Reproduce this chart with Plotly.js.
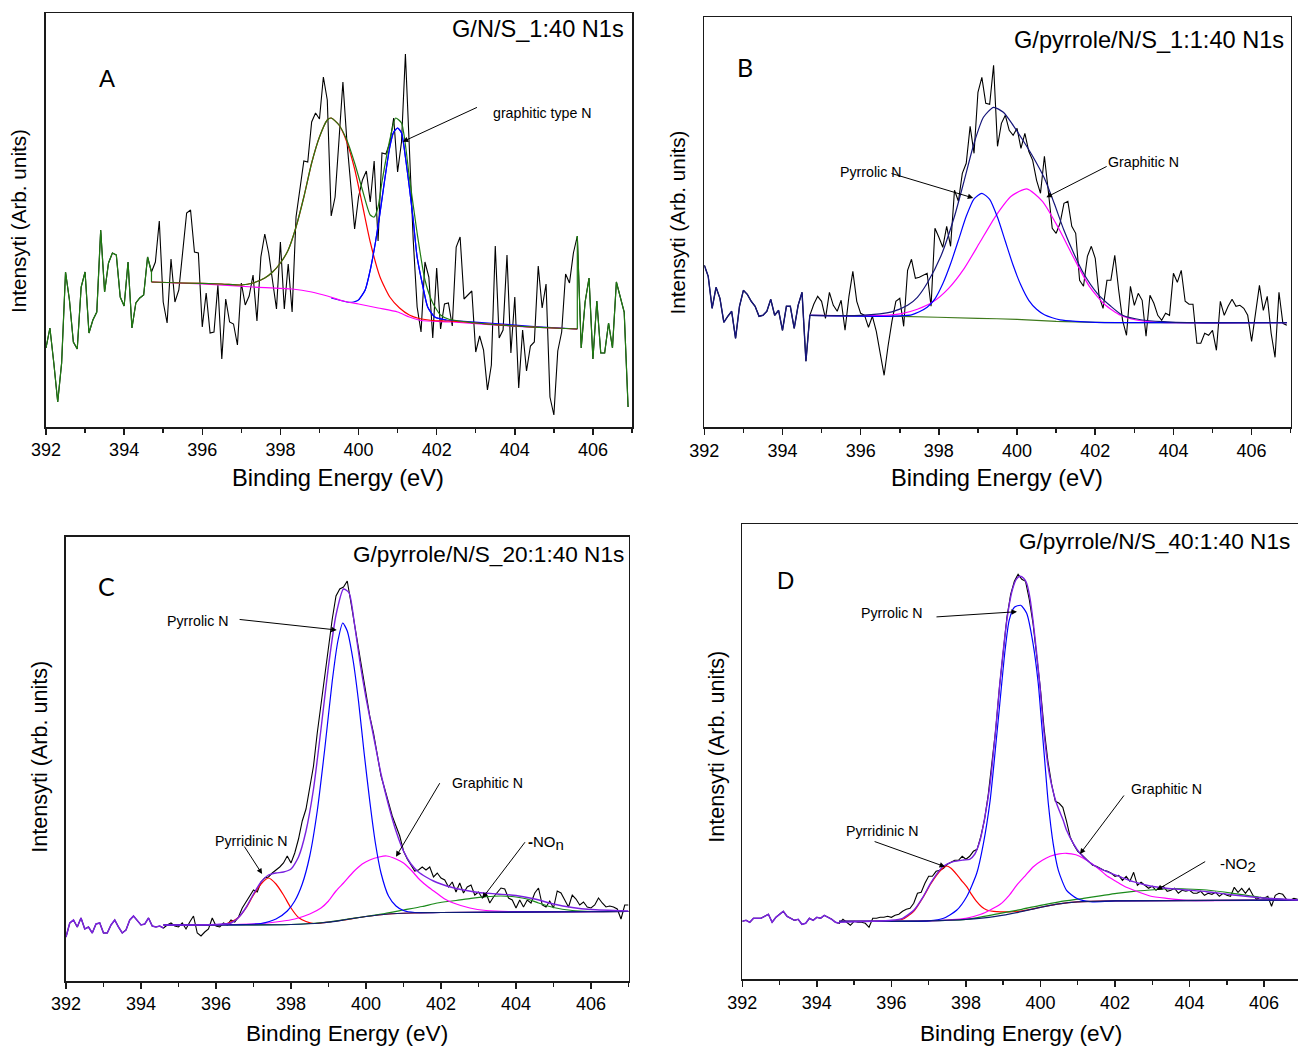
<!DOCTYPE html>
<html><head><meta charset="utf-8">
<script src="https://cdn.plot.ly/plotly-3.0.1.min.js"></script>
<style>html,body{margin:0;padding:0;background:#fff}#chart{width:1298px;height:1047px}</style>
</head><body><div id="chart"></div>
<script>
// ===== Raw N1s spectra (0.1 eV steps starting at 392.0 eV), arbitrary intensity units =====
const E_START = 392.0, E_STEP = 0.1;
const rawA = [79,99,64,25,64,155,127,85,78,140,
155,94,107,115,197,135,164,174,172,130,
121,165,99,124,129,132,170,155,165,206,
125,104,168,125,137,174,214,217,175,174,
100,134,94,95,142,68,128,105,103,82,
144,122,131,152,106,170,193,174,147,118,
185,118,163,115,210,240,266,265,305,314,
308,350,327,211,230,287,345,287,240,198,
230,247,256,225,266,186,274,273,284,309,
255,285,373,284,187,120,95,165,150,89,
159,98,123,124,101,180,190,128,132,136,
75,91,77,37,62,181,89,97,172,74,
130,39,97,56,81,85,161,119,143,30,
12,76,95,153,144,174,191,79,125,149,
68,126,74,74,104,79,145,130,115,20];
const rawB = [162,151,119,140,129,105,111,116,89,121,
137,133,126,121,111,112,116,128,112,117,
97,121,121,99,122,135,66,112,123,131,
126,109,135,122,116,127,97,131,156,126,
114,112,100,111,96,74,52,81,106,126,
129,101,157,168,149,150,152,154,121,199,
190,180,201,181,237,226,254,264,301,274,
335,350,324,323,362,281,304,312,297,292,
299,279,294,276,267,247,234,271,236,199,
194,204,224,226,201,194,147,141,171,181,
169,131,119,147,147,172,137,107,92,141,
122,134,127,91,132,124,112,107,114,112,
154,145,157,126,123,123,84,84,94,92,
97,77,126,112,121,128,121,122,119,112,
86,114,142,117,131,94,70,135,104,102];
const rawC = [44,58,61,54,63,52,54,48,57,58,
48,48,56,61,54,48,51,61,65,61,
56,57,63,55,54,55,53,56,58,55,
54,58,52,59,65,48,45,49,52,63,
55,54,58,56,61,59,64,73,79,84,
91,89,99,103,104,108,111,114,118,125,
118,128,142,160,172,195,215,248,278,305,
335,362,385,392,394,400,378,355,330,308,
287,265,248,225,205,192,178,165,155,145,
130,122,116,110,111,114,111,114,104,108,
103,101,94,99,89,98,88,94,96,86,
89,83,88,78,84,88,93,92,83,81,
73,81,74,81,78,88,93,76,74,80,
73,90,88,81,74,86,82,76,79,74,
73,76,83,78,74,75,74,72,62,76,
76];
const rawD = [58,59,57,61,61,61,63,65,57,62,
65,68,63,61,59,60,55,56,61,59,
62,61,64,62,60,57,56,60,57,54,
58,57,57,56,52,61,61,62,62,63,
62,64,65,68,70,71,76,86,87,96,
103,103,108,109,111,115,117,119,119,123,
120,123,128,130,143,160,185,215,250,292,
330,362,385,398,405,400,398,380,356,325,
290,250,218,195,178,176,172,158,142,134,
128,125,121,117,114,113,111,109,108,106,
103,104,99,103,98,107,94,97,94,91,
93,89,92,93,88,89,91,86,89,88,
89,86,86,88,84,86,85,87,83,86,
84,83,92,87,91,86,91,84,80,82,
81,83,73,84,86,85,80,79,81,80];

// ===== Panel A fitted curves =====
const aEnvE = [394.7,395.5,396.5,397.0,397.3,397.6,397.8,398.0,398.2,398.4,398.6,398.8,399.0,399.2,399.3,399.5,399.7,399.9,400.1,400.3,400.4,400.5,400.6,400.8,400.95,401.1,401.3,401.5,401.7,401.9,402.1,402.3,403.0,404.0,405.0,405.6];
const aEnv  = [145,144,143,142,144,149,155,164,177,200,230,264,290,307,309,302,287,264,237,212,210,220,245,287,309,304,250,194,147,124,112,108,104,101,99,98];
const aRedE = [394.7,395.5,396.5,397.0,397.3,397.6,397.8,398.0,398.2,398.4,398.6,398.8,399.0,399.2,399.3,399.5,399.7,399.9,400.1,400.3,400.55,400.8,401.05,401.3,401.55,401.9,402.3,403.0,404.0,405.0,405.6];
const aRed  = [145,144,143,142,144,149,155,164,177,200,230,264,290,307,309,302,285,258,222,185,150,130,119,112,108.5,106.5,106,104,101,99,98];
const aBlueE = [399.3,399.5,399.7,399.87,400.0,400.17,400.3,400.43,400.55,400.68,400.8,400.9,401.0,401.1,401.2,401.3,401.4,401.5,401.65,401.77,401.95,402.25,402.6,403.5,404.5,405.6];
const aBlue  = [129,127,125,125,127,137,157,184,214,250,280,295,299,294,270,240,207,170,140,120,110,107,106,103.5,100.5,98];
const aBgE = [394.7,396.0,397.3,398.3,398.8,399.2,399.6,400.0,400.5,401.0,401.3,401.6,402.4,404.1,405.6];
const aBg  = [145,143,140,138,135,131,126,123,119,115,110,106.5,105,100.5,98];

// ===== Panel B fitted curves =====
const bEnvE = [394.7,396.0,396.8,397.2,397.45,397.7,398.05,398.4,398.65,398.9,399.14,399.4,399.65,399.9,400.15,400.4,400.7,400.95,401.2,401.45,401.7,402.05,402.4,402.7,403.2,403.75,404.35,406.9];
const bEnv  = [112,112,115.5,122,130,144,171,211,247,284,310,320,315,302,287,271,249,224,197,174,154,134,121,112,107.3,105.6,104.6,104.6];
const bBgE = [394.7,397.0,399.0,400.0,401.0,402.0,403.0,406.9];
const bBg  = [112,111,109,108,106,105,104.6,104.6];
const bBlueE = [394.7,396.7,397.1,397.3,397.5,397.7,397.9,398.1,398.3,398.5,398.7,398.9,399.1,399.3,399.5,399.7,399.9,400.1,400.3,400.5,400.7,400.9,401.1,401.5,402.0,403.0,406.9];
const bBlue  = [112,111,111.7,112.5,115.5,120,128.5,143.5,163.5,187,211,228.5,234,228,210,186,162,142,127,118,112.5,109.5,107.5,106,105,104.6,104.6];
const bMagE = [394.7,396.65,397.05,397.45,397.85,398.25,398.65,399.05,399.45,399.85,400.25,400.65,401.05,401.45,401.85,402.25,402.65,403.05,403.45,404.0,406.9];
const bMag  = [112,112,113.7,118,125.5,139,159,185,211,231,238.5,226,200,169.5,141,122.5,112,107.3,105.4,104.6,104.6];

// ===== Panel C fitted curves =====
const cEnvE = [394.6,396.0,396.4,396.6,396.8,397.0,397.2,397.4,397.6,397.8,398.0,398.2,398.4,398.6,398.8,399.0,399.2,399.4,399.55,399.7,399.85,400.0,400.2,400.4,400.6,400.8,401.0,401.2,401.4,401.6,401.8,402.0,402.3,402.6,403.0,403.5,404.0,404.5,405.0,405.5,406.0,407.0];
const cEnv  = [56,56.5,58,63.5,73.5,87,99,106,108,109,112,124,150,192,252,315,366,392,388,355,316,283,245,207,176,150,130,117,109,104,100,97,93.5,91,88.5,87,85.5,82,77,73.5,71.5,70];
const cBgE = [394.6,398.0,398.8,399.4,400.0,400.6,401.2,402.0,407.0];
const cBg  = [56,56.5,58,61,64.5,67,68,68.5,69.5];
const cRedE = [394.6,396.2,396.4,396.6,396.8,397.0,397.2,397.4,397.6,397.8,398.0,398.2,398.4,398.6,399.0,399.4,400.0,400.6,401.2,402.0,407.0];
const cRed  = [56,56.5,59,63.5,73,86,97,103,97,86,73,63.5,59.5,57.5,59,61,64.5,67,68,68.5,69.5];
const cBlueE = [394.6,396.8,397.2,397.6,397.9,398.1,398.3,398.5,398.7,398.9,399.1,399.25,399.38,399.5,399.65,399.8,399.95,400.1,400.25,400.4,400.6,400.8,401.0,401.3,402.0,407.0];
const cBlue  = [56,56.5,57.5,62,70,80,97,125,170,232,300,340,358,350,322,280,228,180,138,108,85,75,70.5,68.5,68.5,69.5];
const cMagE = [394.6,396.5,397.2,397.7,398.1,398.5,398.8,399.0,399.2,399.4,399.66,399.9,400.1,400.35,400.55,400.8,401.0,401.2,401.44,401.66,401.88,402.1,402.33,402.77,403.2,403.8,407.0];
const cMag  = [56,56.5,57.5,59.5,62,67,73,80,90,98,109,117,121,124,125,122,118,111,101,94,88,82,78,73,70.5,69.5,69.5];
const cGrnE = [394.6,398.0,399.0,399.9,400.5,401.0,401.5,401.9,402.4,402.8,403.2,403.6,404.0,404.3,404.6,405.0,405.5,406.0,407.0];
const cGrn  = [56,56.5,59,64,67.5,71,74.5,78,80.5,82.7,84.3,85,84,82,78,73.5,70.5,69.5,69.5];

// ===== Panel D fitted curves =====
const dEnvE = [394.6,395.5,396.0,396.3,396.6,396.86,397.05,397.21,397.39,397.66,397.93,398.1,398.24,398.38,398.51,398.65,398.78,398.91,399.05,399.15,399.25,399.35,399.45,399.55,399.63,399.72,399.8,399.89,399.98,400.07,400.16,400.25,400.43,400.61,400.7,400.88,401.06,401.24,401.42,401.78,402.13,402.49,402.94,403.38,403.92,404.46,405.17,406.07,406.91];
const dEnv  = [57,58,59,61,69,83,96,105,113,117.6,119.3,120,125.3,139,162.6,196,242.6,296,345,372,390,400,403,401,396,381,359,329,296,256,225,203,176,159,149,136,126,119.3,114.3,107.6,102.6,97.6,93.3,91,89.3,87.6,84.3,81,79.3];
const dBgE = [394.6,397.0,398.0,398.8,399.4,400.0,400.5,401.0,402.0,406.91];
const dBg  = [58,58.5,60,63,67,72,75.5,77.5,78.5,79.3];
const dRedE = [394.6,396.0,396.3,396.6,396.86,397.05,397.21,397.35,397.48,397.6,397.75,397.9,398.02,398.15,398.29,398.42,398.56,398.83,399.2,399.6,400.0,400.5,401.0,402.0,406.91];
const dRed  = [58,58.5,60,68,82.6,95,104,110,113.3,111,105,98,92.6,85,77.6,72.5,69.3,67.6,67.5,69,72,75.5,77.5,78.5,79.3];
const dBlueE = [394.6,397.0,397.4,397.75,398.02,398.29,398.47,398.65,398.78,398.91,399.05,399.16,399.3,399.47,399.63,399.8,399.94,400.03,400.12,400.21,400.34,400.48,400.7,400.97,401.33,402.0,406.91];
const dBlue  = [58,58.5,61,69,82.6,106,136,179,226,276,329,359,372,374,366,336,296,256,216,176,136,109,89,81,77.6,78.5,79.3];
const dMagE = [394.6,397.0,398.0,398.4,398.65,398.92,399.16,399.36,399.6,399.81,400.05,400.26,400.5,400.7,400.95,401.15,401.4,401.6,401.8,402.04,402.25,402.49,402.94,403.38,403.92,406.91];
const dMag  = [58,58.5,61,65,69.3,75,84,94,104,112.6,119,123,125.5,126,124.5,121,115,109.3,103,97.6,93,89.3,83.3,81,79,79.3];
const dGrnE = [394.6,398.0,398.92,399.5,400.0,400.5,401.15,401.6,402.04,402.5,402.94,403.5,403.92,404.46,405.17,405.88,406.5,406.91];
const dGrn  = [58,60,66,70,74,77.5,81,83.5,86,88,89.3,90.6,90.3,89.3,86,82,80,79.3];

// ===== Text =====
const titles = ['G/N/S_1:40 N1s','G/pyrrole/N/S_1:1:40 N1s','G/pyrrole/N/S_20:1:40 N1s','G/pyrrole/N/S_40:1:40 N1s'];
const letters = ['A','B','C','D'];
const xTitle = 'Binding Energy (eV)';
const yTitle = 'Intensyti (Arb. units)';

// ===== Styling / layout =====
const W = 1298, H = 1047;
const FONT = '"Liberation Sans", Arial, Helvetica, sans-serif';
const AX = '#1a1a1a';
const C_RED = '#ff0000', C_BLUE = '#0000ff', C_MAG = '#ff00ff';
const C_GRN_A = '#1f7a12', C_NAVY = '#16167a', C_OLIVE = '#3f7a1c', C_PURP = '#7a22e0', C_BASE = '#0d1f70', C_GRN = '#1a8a1a';
const LW = 1.2;

function raw(y, start, xa, ya, color, w) {
  return {type:'scatter', mode:'lines', y:y, x0:start, dx:E_STEP, xaxis:xa, yaxis:ya,
          line:{color:color, width:w||1.1}, hoverinfo:'skip'};
}
function fit(x, y, xa, ya, color, w) {
  return {type:'scatter', mode:'lines', x:x, y:y, xaxis:xa, yaxis:ya,
          line:{color:color, width:w||LW, shape:'spline', smoothing:0.6}, hoverinfo:'skip'};
}
function seg(x, y, xa, ya, color) {
  return {type:'scatter', mode:'lines', x:x, y:y, xaxis:xa, yaxis:ya, line:{color:color, width:LW}, hoverinfo:'skip'};
}
const eAt = i => +(E_START + i*E_STEP).toFixed(2);

const traces = [];
// ---- A ----
traces.push(raw(rawA, E_START, 'x','y','#000'));
traces.push(fit(aBlueE, aBlue, 'x','y', C_BLUE));
traces.push(fit(aBgE, aBg, 'x','y', C_MAG));
traces.push(fit(aRedE, aRed, 'x','y', C_RED));
traces.push(fit(aBlueE.slice(4,22), aBlue.slice(4,22), 'x','y', C_BLUE));
traces.push(raw(rawA.slice(0,28), E_START, 'x','y', C_GRN_A, LW));
traces.push(seg([aEnvE[0],aEnvE[0]],[rawA[27],aEnv[0]],'x','y',C_GRN_A));
traces.push(fit(aEnvE, aEnv, 'x','y', C_GRN_A));
traces.push(seg([aEnvE[aEnvE.length-1],aEnvE[aEnvE.length-1]],[aEnv[aEnv.length-1],rawA[136]],'x','y',C_GRN_A));
traces.push(raw(rawA.slice(136), eAt(136), 'x','y', C_GRN_A, LW));
// ---- B ----
traces.push(raw(rawB, E_START, 'x2','y2','#000'));
traces.push(fit(bBgE, bBg, 'x2','y2', C_OLIVE));
traces.push(fit(bMagE, bMag, 'x2','y2', C_MAG));
traces.push(fit(bBlueE, bBlue, 'x2','y2', C_BLUE));
traces.push(raw(rawB.slice(0,28), E_START, 'x2','y2', C_NAVY, 1.4));
traces.push(fit(bEnvE, bEnv, 'x2','y2', C_NAVY));
// ---- C ----
traces.push(raw(rawC, E_START, 'x3','y3','#000'));
traces.push(fit(cRedE, cRed, 'x3','y3', C_RED));
traces.push(fit(cGrnE, cGrn, 'x3','y3', C_GRN));
traces.push(fit(cMagE, cMag, 'x3','y3', C_MAG));
traces.push(fit(cBlueE, cBlue, 'x3','y3', C_BLUE));
traces.push(fit(cBgE, cBg, 'x3','y3', C_BASE));
traces.push(raw(rawC.slice(0,27), E_START, 'x3','y3', C_PURP, 1.5));
traces.push(fit(cEnvE, cEnv, 'x3','y3', C_PURP, 1.4));
// ---- D ----
traces.push(raw(rawD, E_START, 'x4','y4','#000'));
traces.push(fit(dRedE, dRed, 'x4','y4', C_RED));
traces.push(fit(dGrnE, dGrn, 'x4','y4', C_GRN));
traces.push(fit(dMagE, dMag, 'x4','y4', C_MAG));
traces.push(fit(dBlueE, dBlue, 'x4','y4', C_BLUE));
traces.push(fit(dBgE, dBg, 'x4','y4', C_BASE));
traces.push(raw(rawD.slice(0,27), E_START, 'x4','y4', C_PURP, 1.5));
traces.push(fit(dEnvE, dEnv, 'x4','y4', C_PURP, 1.4));

// panel frames in pixels
const panels = [
  {l:46,    r:632,    t:13.3,  b:427,   eMax:407,    yMax:413.7, rightLine:true},
  {l:704.3, r:1290.7, t:17.3,  b:427.3, eMax:407,    yMax:410,   rightLine:true},
  {l:66,    r:628.5,  t:536.7, b:981,   eMax:407,    yMax:444.3, rightLine:true},
  {l:742.3, r:1298,   t:524.3, b:979.3, eMax:406.91, yMax:455,   rightLine:false}
];
const layout = {
  width:W, height:H, margin:{l:0,r:0,t:0,b:0,pad:0}, showlegend:false,
  paper_bgcolor:'#ffffff', plot_bgcolor:'rgba(0,0,0,0)',
  font:{family:FONT, color:'#000', size:14}, annotations:[]
};
panels.forEach((p,i) => {
  const s = i===0 ? '' : String(i+1);
  layout['xaxis'+s] = {
    domain:[p.l/W, p.r/W], range:[392, p.eMax], anchor:'y'+s,
    showline:true, linecolor:AX, linewidth:1.6, mirror:true,
    ticks:'outside', ticklen:6, tickwidth:1.5, tickcolor:AX,
    tick0:392, dtick:2, tickfont:{size:18, family:FONT, color:'#000'},
    minor:{ticks:'outside', tick0:392, dtick:1, ticklen:4, tickwidth:1.5, tickcolor:AX, showgrid:false},
    showgrid:false, zeroline:false, fixedrange:true
  };
  layout['yaxis'+s] = {
    domain:[1-p.b/H, 1-p.t/H], range:[0, p.yMax], anchor:'x'+s,
    showline:true, linecolor:AX, linewidth:1.6, mirror:p.rightLine,
    ticks:'', showticklabels:false, showgrid:false, zeroline:false, fixedrange:true
  };
});

const A = layout.annotations;
// axis titles (paper coords from pixel positions): [x, y, fontSize]
const xt = [[338,478,23.7],[996.5,478,23.7],[346.5,1033,22.6],[1021,1033,22.6]];
const yt = [[19,221,20.7],[677,222.5,20.7],[40,756.7,21.6],[717,746.7,21.6]];
xt.forEach(([px,py,fs]) => A.push({xref:'paper', yref:'paper', x:px/W, y:1-py/H, xanchor:'center', yanchor:'middle',
  text:xTitle, showarrow:false, font:{size:fs, family:FONT}}));
yt.forEach(([px,py,fs]) => A.push({xref:'paper', yref:'paper', x:px/W, y:1-py/H, xanchor:'center', yanchor:'middle',
  text:yTitle, textangle:-90, showarrow:false, font:{size:fs, family:FONT}}));

function txt(s, e, v, str, size, anchor, fam) {
  A.push({xref:'x'+s, yref:'y'+s, x:e, y:v, text:str, showarrow:false, xanchor:anchor||'left', yanchor:'middle',
          font:{size:size, family:fam||FONT, color:'#000'}});
}
function arrow(s, e1, v1, e0, v0) {
  A.push({xref:'x'+s, yref:'y'+s, x:e1, y:v1, axref:'x'+s, ayref:'y'+s, ax:e0, ay:v0, text:'',
          showarrow:true, arrowhead:2, arrowsize:1.1, arrowwidth:1, arrowcolor:'#000', standoff:0});
}
// panel titles & letters
txt('', 406.85, 397.7, titles[0], 23.6, 'right');
txt('2', 406.87, 387.3, titles[1], 23.6, 'right');
txt('3', 406.94, 426.7, titles[2], 22.6, 'right');
txt('4', 406.76, 437.6, titles[3], 22.6, 'right');
txt('', 393.3, 348.3, letters[0], 24, 'left');
txt('2', 392.78, 360.6, letters[1], 25, 'left', 'Lato, "Open Sans", sans-serif');
txt('3', 392.8, 395.5, letters[2], 25, 'left', 'Lato, "Open Sans", sans-serif');
txt('4', 392.87, 398.6, letters[3], 24, 'left');
// peak labels
txt('', 403.4, 314.3, 'graphitic type N', 14.2);
arrow('', 401.13, 285.3, 403.07, 320.3);
txt('2', 395.42, 255.3, 'Pyrrolic N', 14.2);
arrow('2', 398.88, 229.3, 396.75, 254.3);
txt('2', 402.28, 265.3, 'Graphitic N', 14.2);
arrow('2', 400.75, 230, 402.33, 261.6);
txt('3', 394.64, 360, 'Pyrrolic N', 14.2);
arrow('3', 399.22, 351, 396.59, 361.7);
txt('3', 395.92, 140.3, 'Pyrridinic N', 14.2);
arrow('3', 397.23, 107, 396.73, 136);
txt('3', 402.25, 197.7, 'Graphitic N', 14.2);
arrow('3', 400.8, 124.3, 401.99, 199.3);
txt('3', 404.27, 138, '<b>-</b>NO<sub><span style="font-size:15px">n</span></sub>', 15);
arrow('3', 403.1, 82.7, 404.27, 140.3);
txt('4', 395.13, 366, 'Pyrrolic N', 14.2);
arrow('4', 399.37, 367.6, 397.17, 362.3);
txt('4', 394.73, 148.3, 'Pyrridinic N', 14.2);
arrow('4', 397.44, 112.6, 395.51, 138.3);
txt('4', 402.37, 190, 'Graphitic N', 14.2);
arrow('4', 401.06, 125.3, 402.27, 185.3);
txt('4', 404.77, 114.3, '-NO<sub><span style="font-size:15px">2</span></sub>', 15);
arrow('4', 403.12, 89.3, 404.46, 118.6);

Plotly.newPlot('chart', traces, layout, {displayModeBar:false, staticPlot:true});
</script>
</body></html>
